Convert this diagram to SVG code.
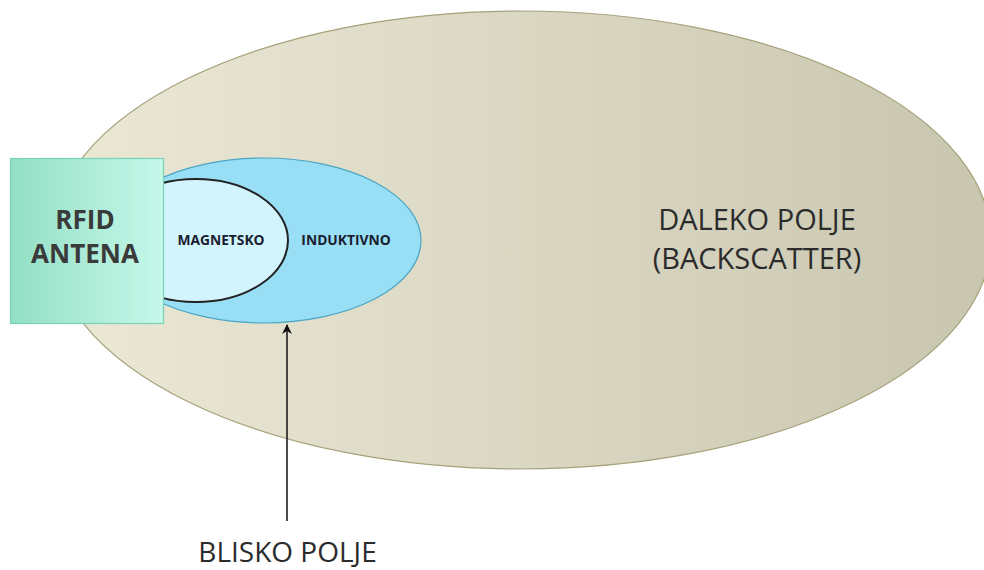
<svg xmlns="http://www.w3.org/2000/svg" width="984" height="570" viewBox="0 0 984 570">
<style>
.t{font-family:"Open Sans","Liberation Sans",sans-serif;fill:#2b2b2b;text-anchor:middle}
.b{font-weight:bold}
.s{fill:#1a2030;font-size:13.8px}
</style>
<defs>
<linearGradient id="gFar" x1="0" y1="0" x2="1" y2="0">
<stop offset="0" stop-color="#ebe8d6"/><stop offset="1" stop-color="#c9c6b0"/>
</linearGradient>
<linearGradient id="gAnt" x1="0" y1="0" x2="1" y2="0">
<stop offset="0" stop-color="#93dfc6"/><stop offset="1" stop-color="#c6f8e9"/>
</linearGradient>
<marker id="arr" markerWidth="10" markerHeight="10" refX="9" refY="5" orient="auto" markerUnits="userSpaceOnUse">
<path d="M0,0 L10,5 L0,10 L3,5 Z" fill="#111"/>
</marker>
</defs>
<rect width="984" height="570" fill="#fff"/>
<g id="far">
<ellipse cx="521" cy="240" rx="470" ry="229" fill="url(#gFar)" stroke="#a5a27a" stroke-width="1.2"/>
<text class="t" x="757" y="230" font-size="29">DALEKO POLJE</text>
<text class="t" x="757" y="269" font-size="29">(BACKSCATTER)</text>
</g>
<g id="inductive">
<ellipse cx="264" cy="240.5" rx="157" ry="82.5" fill="#98dff6" stroke="#4ba5c4" stroke-width="1.2"/>
<text class="t b s" x="346" y="245">INDUKTIVNO</text>
</g>
<g id="magnetic">
<ellipse cx="196" cy="240.5" rx="92" ry="61.5" fill="#d1f4fd" stroke="#222" stroke-width="2"/>
<text class="t b s" x="221" y="245">MAGNETSKO</text>
</g>
<g id="antenna">
<rect x="10.5" y="158.5" width="153" height="165" fill="url(#gAnt)" stroke="#79d2b4" stroke-width="1.2"/>
<text class="t b" x="85" y="229" font-size="26" style="fill:#3a3a3a">RFID</text>
<text class="t b" x="85" y="263" font-size="26" style="fill:#3a3a3a">ANTENA</text>
</g>
<g id="connectors">
<line x1="287" y1="521" x2="287" y2="325" stroke="#111" stroke-width="1.5" marker-end="url(#arr)"/>
</g>
<g id="near-label">
<text class="t" x="287.5" y="562" font-size="28">BLISKO POLJE</text>
</g>
</svg>
